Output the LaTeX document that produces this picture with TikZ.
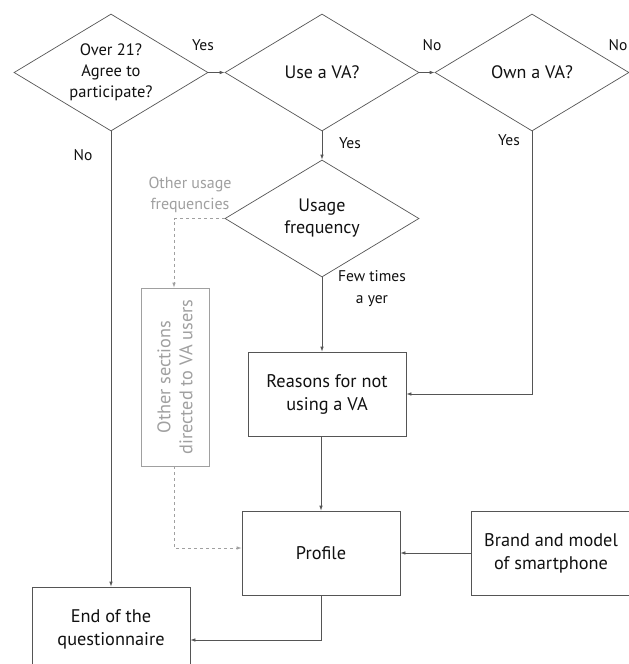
\documentclass[tikz,border=0pt]{standalone}
\usepackage{fontspec}
\setmainfont{PT Sans}
\usetikzlibrary{shapes.geometric,arrows.meta}
\definecolor{linec}{HTML}{555555}
\definecolor{textc}{HTML}{111111}
\definecolor{greyc}{HTML}{A0A0A0}
\begin{document}
\begin{tikzpicture}[x=1pt,y=-1pt,
  every node/.style={font=\fontsize{18}{22}\selectfont, text=textc},
  dia/.style={draw=linec, line width=0.7pt, diamond, aspect=1.66, inner sep=0pt,
    minimum width=194pt, minimum height=117pt, align=center},
  box/.style={draw=linec, line width=0.7pt, rectangle, minimum width=158pt,
    minimum height=84pt, align=center, font=\fontsize{18.3}{23}\selectfont},
  gbox/.style={draw=greyc, line width=0.7pt, rectangle, minimum width=178pt,
    minimum height=68pt, align=center, text=greyc, rotate=90,
    font=\fontsize{18.3}{22}\selectfont},
  arr/.style={draw=linec, line width=0.7pt, -{Latex[length=5pt,width=3.5pt]}},
  garr/.style={draw=greyc, line width=0.7pt, dashed, -{Latex[length=5pt,width=3.5pt]}},
  lbl/.style={inner sep=0pt, font=\fontsize{15.5}{22}\selectfont},
  glbl/.style={inner sep=0pt, text=greyc, align=center, font=\fontsize{16}{21}\selectfont}]
\clip (0,0) rectangle (629,664);
\fill[white] (0,0) rectangle (629,664);

\node[dia, font=\fontsize{16.5}{21}\selectfont] (d1) at (111,72.5) {Over 21?\\Agree to\\participate?};
\node[dia] (d2) at (322,72.5) {Use a VA?};
\node[dia] (d3) at (532,72.5) {Own a VA?};
\node[dia] (d4) at (322,218.5) {Usage\\frequency};

\node[box] (reasons) at (327,394) {Reasons for not\\using a VA};
\node[box] (profile) at (321,553) {Profile};
\node[box, minimum width=160pt] (brand) at (551,553) {Brand and model\\of smartphone};
\node[box] (end) at (111,629) {End of the\\questionnaire};
\node[gbox] (other) at (175,377) {Other sections\\directed to VA users};

\node[lbl] (l1) at (203,45) {Yes};
\node[lbl] (l2) at (432,45) {No};
\node[lbl] (l3) at (618,45) {No};
\node[lbl] (l4) at (350,143) {Yes};
\node[lbl] (l5) at (509,140) {Yes};
\node[lbl] (l6) at (83,155) {No};
\node[glbl] (l7) at (190,195) {Other usage\\frequencies};
\node[lbl, align=center] (l8) at (372,289) {Few times\\a yer};

\coordinate (c1) at (532,394);
\coordinate (c2) at (174,218.5);
\coordinate (c3) at (174,548);
\coordinate (c4) at (321,640);

\draw[arr] (d1.east) -- (d2.west);
\draw[arr] (d2.east) -- (d3.west);
\draw[arr] (d2.south) -- (d4.north);
\draw[arr] (d1.south) -- (end.north -| d1.south);
\draw[arr] (d4.south) -- (reasons.north -| d4.south);
\draw[arr] (d3.south) -- (c1) -- (reasons.east);
\draw[arr] (reasons.south -| profile.north) -- (profile.north);
\draw[arr] (brand.west) -- (profile.east);
\draw[arr] (profile.south) -- (c4) -- (c4 -| end.east);
\draw[garr] (d4.west) -- (c2) -- (c2 |- other.east);
\draw[garr] (c2 |- other.west) -- (c3) -- (c3 -| profile.west);
\end{tikzpicture}
\end{document}
